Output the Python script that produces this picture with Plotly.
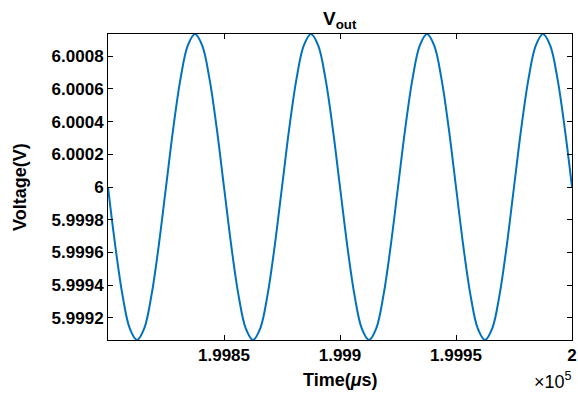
import plotly.graph_objects as go

# Time samples (microseconds), every 3.125 us from 1.998e5 to 2e5
time_us = [199800 + 3.125 * i for i in range(65)]

# Voltage (16 samples per 50 us period)
voltage = [
    6.0, 5.999642, 5.999339, 5.999136, 5.999065, 5.999136, 5.999339, 5.999642,
    6.0, 6.000358, 6.000661, 6.000864, 6.000935, 6.000864, 6.000661, 6.000358,
    6.0, 5.999642, 5.999339, 5.999136, 5.999065, 5.999136, 5.999339, 5.999642,
    6.0, 6.000358, 6.000661, 6.000864, 6.000935, 6.000864, 6.000661, 6.000358,
    6.0, 5.999642, 5.999339, 5.999136, 5.999065, 5.999136, 5.999339, 5.999642,
    6.0, 6.000358, 6.000661, 6.000864, 6.000935, 6.000864, 6.000661, 6.000358,
    6.0, 5.999642, 5.999339, 5.999136, 5.999065, 5.999136, 5.999339, 5.999642,
    6.0, 6.000358, 6.000661, 6.000864, 6.000935, 6.000864, 6.000661, 6.000358,
    6.0,
]

x_tickvals = [199850, 199900, 199950, 200000]
x_ticktext = ["1.9985", "1.999", "1.9995", "2"]
y_tickvals = [5.9992, 5.9994, 5.9996, 5.9998, 6.0, 6.0002, 6.0004, 6.0006, 6.0008]
y_ticktext = ["5.9992", "5.9994", "5.9996", "5.9998", "6", "6.0002", "6.0004", "6.0006", "6.0008"]

FONT = "Liberation Sans, Arial, sans-serif"

fig = go.Figure()
fig.add_trace(go.Scatter(
    x=time_us, y=voltage, mode="lines",
    line=dict(color="#0072BD", width=2, shape="spline", smoothing=1.0),
    hoverinfo="skip", showlegend=False,
))

axis_common = dict(
    showline=True, mirror="ticks", linecolor="black", linewidth=1,
    ticks="inside", ticklen=5, tickwidth=1, tickcolor="black",
    showgrid=False, zeroline=False, automargin=False,
    tickfont=dict(family=FONT, size=17, color="black", weight="bold"),
)

fig.update_layout(
    width=578, height=394,
    margin=dict(l=108, r=6, t=34, b=54, autoexpand=False),
    paper_bgcolor="white", plot_bgcolor="white",
    xaxis=dict(range=[199800, 200000], tickvals=x_tickvals, ticktext=x_ticktext, **axis_common),
    yaxis=dict(range=[5.999065, 6.000935], tickvals=y_tickvals, ticktext=y_ticktext, **axis_common),
    annotations=[
        dict(text="<b>V<sub>out</sub></b>", xref="paper", yref="paper", x=0.5, y=1.0,
             yshift=0, xanchor="center", yanchor="bottom", showarrow=False,
             font=dict(family=FONT, size=19, color="black")),
        dict(text="<b>Time(<i>μ</i>s)</b>", xref="paper", yref="paper", x=0.5, y=0,
             yshift=-40, xanchor="center", yanchor="middle", showarrow=False,
             font=dict(family=FONT, size=18, color="black")),
        dict(text="<b>Voltage(V)</b>", xref="paper", yref="paper", x=0, y=0.5,
             xshift=-88, xanchor="center", yanchor="middle", textangle=-90, showarrow=False,
             font=dict(family=FONT, size=18, color="black")),
        dict(text="×10<sup>5</sup>", xref="paper", yref="paper", x=1, y=0,
             yshift=-40, xshift=2, xanchor="right", yanchor="middle", showarrow=False,
             font=dict(family=FONT, size=18, color="black")),
    ],
)

fig.write_html("out.html")
